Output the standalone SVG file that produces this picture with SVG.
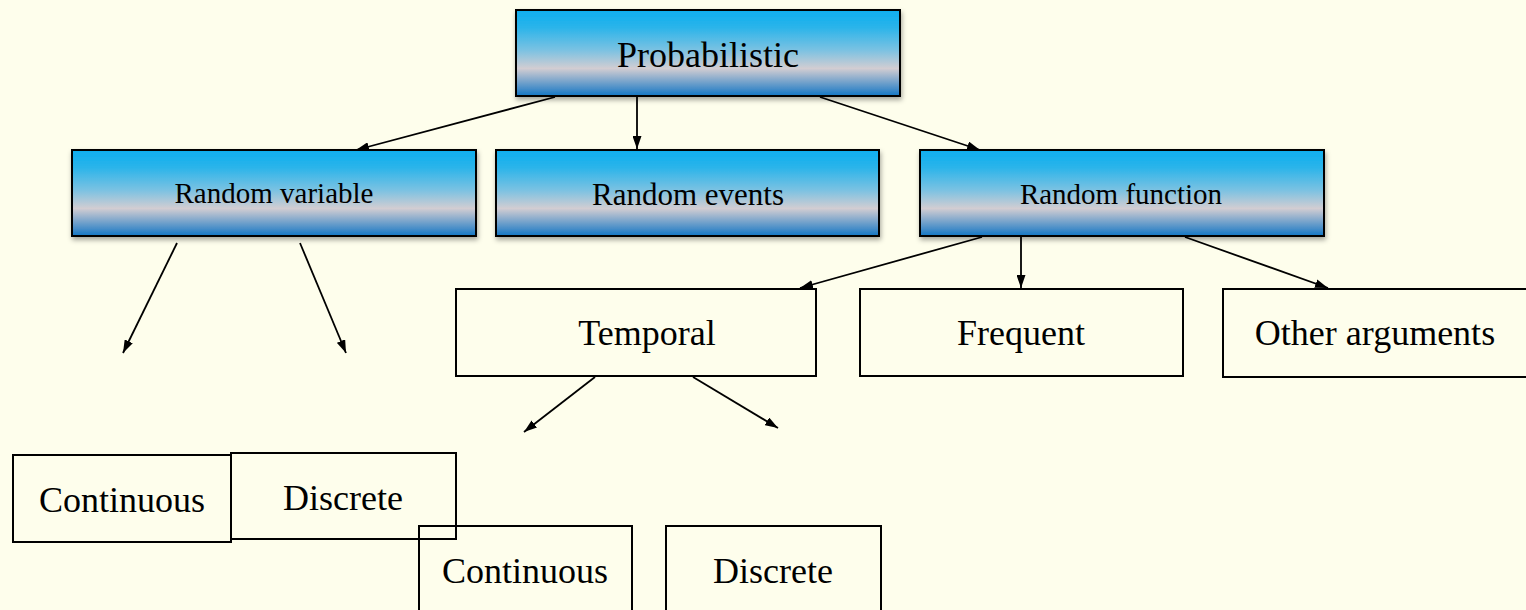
<svg xmlns="http://www.w3.org/2000/svg" width="1526" height="610" viewBox="0 0 1526 610">
<defs>
<linearGradient id="g" x1="0" y1="0" x2="0" y2="1">
<stop offset="0" stop-color="#0eaeef"/>
<stop offset="0.2" stop-color="#2ab4ea"/>
<stop offset="0.47" stop-color="#7cc2e2"/>
<stop offset="0.68" stop-color="#d2cdd2"/>
<stop offset="1" stop-color="#1476c4"/>
</linearGradient>
<filter id="sh" x="-5%" y="-10%" width="110%" height="130%">
<feDropShadow dx="1" dy="3" stdDeviation="2.5" flood-color="#000" flood-opacity="0.35"/>
</filter>
<marker id="ah" viewBox="0 0 13 9" refX="13" refY="4.5" markerWidth="13" markerHeight="9" markerUnits="userSpaceOnUse" orient="auto">
<path d="M0,0 L13,4.5 L0,9 Z" fill="#000"/>
</marker>
</defs>
<style>
text{font-family:"Liberation Serif","Times New Roman",serif;fill:#000;text-anchor:middle}
.gb{fill:url(#g);stroke:#000;stroke-width:2;filter:url(#sh)}
.pb{fill:none;stroke:#000;stroke-width:2}
.c line{stroke:#000;stroke-width:1.8;marker-end:url(#ah)}
</style>
<rect width="1526" height="610" fill="#fefeec"/>
<g class="c">
<line x1="555" y1="97" x2="356" y2="150"/>
<line x1="637" y1="97" x2="637" y2="149"/>
<line x1="820" y1="97" x2="980" y2="150"/>
<line x1="177" y1="243" x2="123" y2="353"/>
<line x1="300" y1="243" x2="346" y2="353"/>
<line x1="982" y1="237" x2="800" y2="288"/>
<line x1="1021" y1="237" x2="1021" y2="288"/>
<line x1="1185" y1="237" x2="1328" y2="288"/>
<line x1="595" y1="377" x2="524" y2="432"/>
<line x1="693" y1="377" x2="778" y2="428"/>
</g>
<g id="probabilistic"><rect class="gb" x="516" y="10" width="384" height="86"/><text x="708" y="67" font-size="36">Probabilistic</text></g>
<g id="random-variable"><rect class="gb" x="72" y="150" width="404" height="86"/><text x="274" y="203" font-size="29">Random variable</text></g>
<g id="random-events"><rect class="gb" x="496" y="150" width="383" height="86"/><text x="688" y="205" font-size="31">Random events</text></g>
<g id="random-function"><rect class="gb" x="920" y="150" width="404" height="86"/><text x="1121" y="204" font-size="29">Random function</text></g>
<g id="temporal"><rect class="pb" x="456" y="289" width="360" height="87"/><text x="647" y="345" font-size="36">Temporal</text></g>
<g id="frequent"><rect class="pb" x="860" y="289" width="323" height="87"/><text x="1021" y="345" font-size="36">Frequent</text></g>
<g id="other-arguments"><rect class="pb" x="1223" y="289" width="310" height="88"/><text x="1375" y="345" font-size="36">Other arguments</text></g>
<g id="continuous-1"><rect class="pb" x="13" y="455" width="218" height="87"/><text x="122" y="512" font-size="36">Continuous</text></g>
<g id="discrete-1"><rect class="pb" x="231" y="453" width="225" height="86"/><text x="343" y="510" font-size="36">Discrete</text></g>
<g id="continuous-2"><rect class="pb" x="419" y="526" width="213" height="100"/><text x="525" y="583" font-size="36">Continuous</text></g>
<g id="discrete-2"><rect class="pb" x="666" y="526" width="215" height="100"/><text x="773" y="583" font-size="36">Discrete</text></g>
</svg>
